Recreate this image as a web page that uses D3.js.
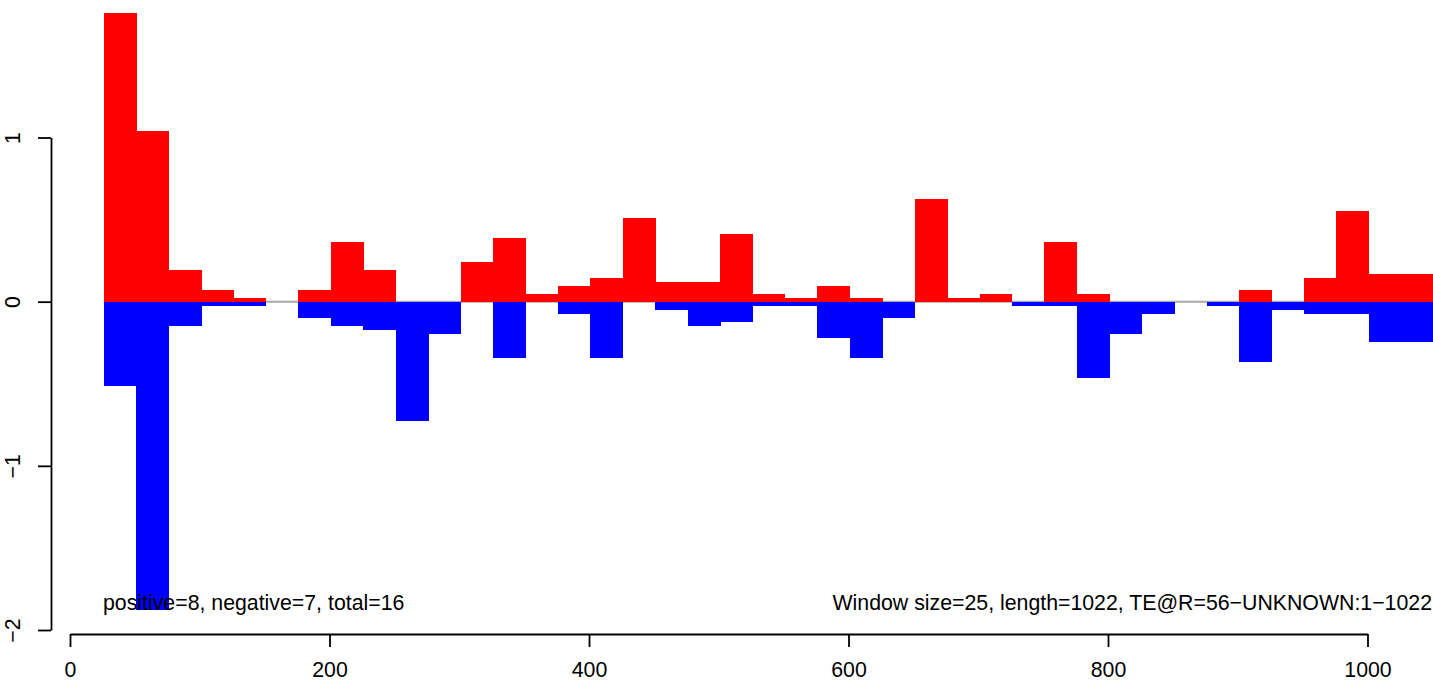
<!DOCTYPE html>
<html>
<head>
<meta charset="utf-8">
<script src="https://cdn.jsdelivr.net/npm/d3@7"></script>
<style>
  html, body { margin: 0; padding: 0; background: #fff; }
  svg { display: block; }
  text { font-family: "Liberation Sans", Arial, Helvetica, sans-serif; fill: #000; }
</style>
</head>
<body>
<svg id="chart" width="1433" height="682"></svg>
<script>
// Window start positions (window size 25)
const windowStarts = d3.range(41).map(i => 26 + 25 * i);
const windowSize = 25;

// Positive (red) values per window
const positiveValues = [
  1.759, 1.040, 0.193, 0.071, 0.023, 0, 0.071, 0.364, 0.193, 0,
  0, 0.242, 0.388, 0.047, 0.096, 0.144, 0.510, 0.120, 0.120, 0.412,
  0.047, 0.023, 0.096, 0.023, 0, 0.626, 0.023, 0.047, 0, 0.364,
  0.047, 0, 0, 0, 0, 0.071, 0, 0.144, 0.552, 0.169,
  0.169
];

// Negative (blue) values per window
const negativeValues = [
  -0.513, -1.878, -0.148, -0.026, -0.026, 0, -0.099, -0.148, -0.172, -0.727,
  -0.197, 0, -0.343, 0, -0.075, -0.343, 0, -0.051, -0.148, -0.124,
  -0.026, -0.026, -0.221, -0.343, -0.099, 0, 0, 0, -0.026, -0.026,
  -0.465, -0.197, -0.075, 0, -0.026, -0.367, -0.051, -0.075, -0.075, -0.245,
  -0.245
];

const xTicks = [0, 200, 400, 600, 800, 1000];
const yTicks = [-2, -1, 0, 1];
const leftLabel = "positive=8, negative=7, total=16";
const rightLabel = "Window size=25, length=1022, TE@R=56\u2212UNKNOWN:1\u22121022";

const FS = 21.3;
const svg = d3.select("#chart");
const x = d3.scaleLinear().domain([0, 1000]).range([70, 1367.5]);
const y = d3.scaleLinear().domain([-2, 1]).range([630, 137.5]);

// zero line
svg.append("line")
  .attr("x1", x(windowStarts[0])).attr("x2", 1433)
  .attr("y1", y(0)).attr("y2", y(0))
  .attr("stroke", "#a9a9a9").attr("stroke-width", 2);

const data = windowStarts.map((s, i) => ({ s, pos: positiveValues[i], neg: negativeValues[i] }));

svg.append("g").attr("shape-rendering", "crispEdges").selectAll("rect")
  .data(data.filter(d => d.pos > 0))
  .join("rect")
  .attr("x", d => x(d.s))
  .attr("width", d => x(d.s + windowSize) - x(d.s) + 0.5)
  .attr("y", d => y(d.pos))
  .attr("height", d => y(0) - y(d.pos))
  .attr("fill", "#ff0000");

svg.append("g").attr("shape-rendering", "crispEdges").selectAll("rect")
  .data(data.filter(d => d.neg < 0))
  .join("rect")
  .attr("x", d => x(d.s))
  .attr("width", d => x(d.s + windowSize) - x(d.s) + 0.5)
  .attr("y", d => y(0))
  .attr("height", d => y(d.neg) - y(0))
  .attr("fill", "#0000ff");

// Y axis (R style)
const yAxisX = 51;
const yAxis = svg.append("g").attr("transform", `translate(${yAxisX},0)`)
  .call(d3.axisLeft(y).tickValues(yTicks).tickSize(13).tickSizeOuter(0)
    .tickFormat(d => String(d).replace("-", "\u2212")));
yAxis.select(".domain").attr("stroke", "#000").attr("stroke-width", 1.8);
yAxis.selectAll(".tick line").attr("stroke", "#000").attr("stroke-width", 1.8);
yAxis.selectAll(".tick text")
  .attr("font-size", FS)
  .attr("text-anchor", "middle")
  .attr("dy", 0)
  .attr("x", 0)
  .attr("transform", `translate(${20 - yAxisX},0) rotate(-90)`);

// X axis (R style)
const xAxisY = 634;
const xAxis = svg.append("g").attr("transform", `translate(0,${xAxisY})`)
  .call(d3.axisBottom(x).tickValues(xTicks).tickSize(13).tickSizeOuter(0)
    .tickFormat(d3.format("d")));
xAxis.select(".domain").attr("stroke", "#000").attr("stroke-width", 1.8);
xAxis.selectAll(".tick line").attr("stroke", "#000").attr("stroke-width", 1.8);
xAxis.selectAll(".tick text")
  .attr("font-size", FS)
  .attr("y", 43)
  .attr("dy", 0);
svg.selectAll(".tick text").style("font-family", "'Liberation Sans', Arial, sans-serif").attr("fill", "#000");

// annotations
svg.append("text")
  .attr("x", 103).attr("y", 610)
  .attr("font-size", FS)
  .text(leftLabel);
svg.append("text")
  .attr("x", 1432).attr("y", 610)
  .attr("font-size", FS)
  .attr("text-anchor", "end")
  .text(rightLabel);
</script>
</body>
</html>
